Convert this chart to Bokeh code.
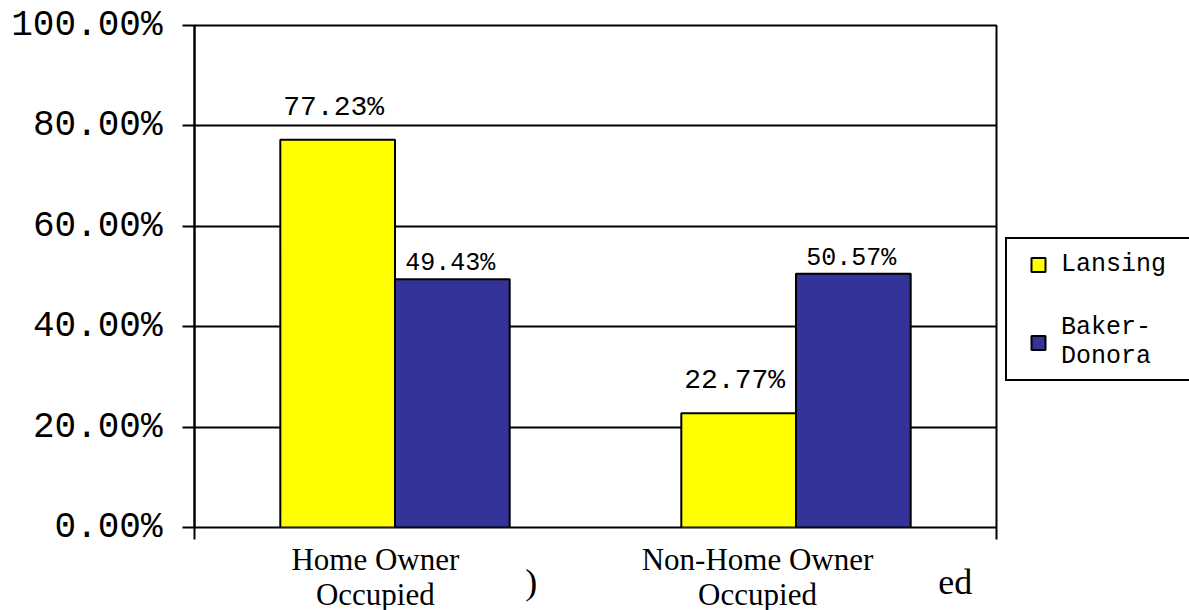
from bokeh.plotting import figure
from bokeh.models import (ColumnDataSource, FactorRange, Range1d, FixedTicker,
                          NumeralTickFormatter, LinearAxis, Legend, LegendItem)
from bokeh.transform import dodge
from bokeh.core.properties import value
from bokeh.embed import file_html
from bokeh.resources import INLINE

# ---- data ----
categories = ["Home Owner Occupied", "Non-Home Owner Occupied"]
category_labels = ["Home Owner\nOccupied", "Non-Home Owner\nOccupied"]
series_names = ["Lansing", "Baker-\nDonora"]
series_colors = ["#FFFF00", "#333399"]
lansing = [0.7723, 0.2277]
baker_donora = [0.4943, 0.5057]
y_ticks = [0.0, 0.2, 0.4, 0.6, 0.8, 1.0]
fragment_labels = [")", "ed"]

src = ColumnDataSource(dict(
    cat=categories,
    lansing=lansing,
    baker=baker_donora,
    lansing_txt=[f"{v*100:.2f}%" for v in lansing],
    baker_txt=[f"{v*100:.2f}%" for v in baker_donora],
))

MONO = "Liberation Mono"
SERIF = "Liberation Serif"

p = figure(x_range=FactorRange(*categories, range_padding=0), y_range=Range1d(0, 1),
           width=1189, height=610, frame_width=802, frame_height=502,
           min_border_left=194, min_border_top=25, min_border_right=193, min_border_bottom=83,
           output_backend="svg", toolbar_location=None, x_axis_location=None)
p.background_fill_color = "white"
p.border_fill_color = "white"
p.outline_line_color = "black"
p.outline_line_width = 2

# bars
bw = 0.286
r1 = p.vbar(x=dodge("cat", -0.143, range=p.x_range), top="lansing", width=bw, source=src,
            fill_color=series_colors[0], line_color="black", line_width=2)
r2 = p.vbar(x=dodge("cat", 0.143, range=p.x_range), top="baker", width=bw, source=src,
            fill_color=series_colors[1], line_color="black", line_width=2)

# data labels
p.text(x=dodge("cat", -0.153, range=p.x_range), y="lansing", text="lansing_txt", source=src,
       text_font=value(MONO), text_font_size="28px", text_align="center",
       text_baseline="bottom", y_offset=-17, text_color="black")
p.text(x=dodge("cat", 0.138, range=p.x_range), y="baker", text="baker_txt", source=src,
       text_font=value(MONO), text_font_size="25px", text_align="center",
       text_baseline="bottom", y_offset=-1, text_color="black")

# y axis
ya = p.yaxis[0]
ya.ticker = FixedTicker(ticks=y_ticks)
ya.formatter = NumeralTickFormatter(format="0.00%")
ya.major_label_text_font = MONO
ya.major_label_text_font_size = "36px"
ya.major_label_text_color = "black"
ya.major_tick_out = 12
ya.major_tick_in = 0
ya.major_tick_line_width = 2
ya.major_tick_line_color = "black"
ya.minor_tick_line_color = None
ya.axis_line_width = 2
ya.axis_line_color = "black"
ya.major_label_standoff = 20

p.ygrid.ticker = FixedTicker(ticks=y_ticks)
p.ygrid.grid_line_color = "black"
p.ygrid.grid_line_width = 2
p.xgrid.grid_line_color = None

# x axis: boundary ticks
tick_axis = LinearAxis(ticker=FixedTicker(ticks=[0, 2]),
                       major_label_overrides={0: "", 2: ""},
                       major_tick_out=12, major_tick_in=0,
                       major_tick_line_width=2, major_tick_line_color="black",
                       minor_tick_line_color=None, axis_line_color=None,
                       major_label_standoff=0, major_label_text_font_size="1px")
p.add_layout(tick_axis, "below")

# x axis: category labels
label_pos = [0.451, 1.404]
label_axis = LinearAxis(ticker=FixedTicker(ticks=label_pos),
                        major_label_overrides={k: v for k, v in zip(label_pos, category_labels)},
                        major_tick_line_color=None, minor_tick_line_color=None,
                        axis_line_color=None, major_label_standoff=-4,
                        major_label_text_font=SERIF, major_label_text_font_size="31px",
                        major_label_text_color="black", major_label_text_line_height=1.0)
p.add_layout(label_axis, "below")

# leftover fragments of a hidden title, drawn back up over the label band
fragment_pos = [0.84, 1.897]
frag_axis = LinearAxis(ticker=FixedTicker(ticks=fragment_pos),
                       major_label_overrides={k: v for k, v in zip(fragment_pos, fragment_labels)},
                       major_tick_line_color=None, minor_tick_line_color=None,
                       axis_line_color=None, major_label_standoff=-59,
                       major_label_text_font=SERIF, major_label_text_font_size="36px",
                       major_label_text_color="black")
p.add_layout(frag_axis, "below")

# legend keys (square swatches; the point itself lies off-scale so only the key shows)
key_src = ColumnDataSource(dict(x=[categories[0]], y=[float("nan")]))
k1 = p.scatter(x="x", y="y", source=key_src, marker="square", fill_color=series_colors[0],
               line_color="black", line_width=2)
k2 = p.scatter(x="x", y="y", source=key_src, marker="square", fill_color=series_colors[1],
               line_color="black", line_width=2)
legend = Legend(items=[LegendItem(label=series_names[0], renderers=[k1]),
                       LegendItem(label=series_names[1], renderers=[k2])],
                location=(9, 146), padding=8, spacing=31, margin=0,
                glyph_width=46, glyph_height=35, label_standoff=0, label_width=150,
                label_text_font=MONO, label_text_font_size="25px",
                label_text_color="black", label_height=14, label_text_line_height=1.1,
                border_line_color="black", border_line_width=2, border_line_alpha=1.0,
                background_fill_color="white", background_fill_alpha=1.0)
p.add_layout(legend, "right")

open("out.html", "w").write(file_html(p, INLINE))
